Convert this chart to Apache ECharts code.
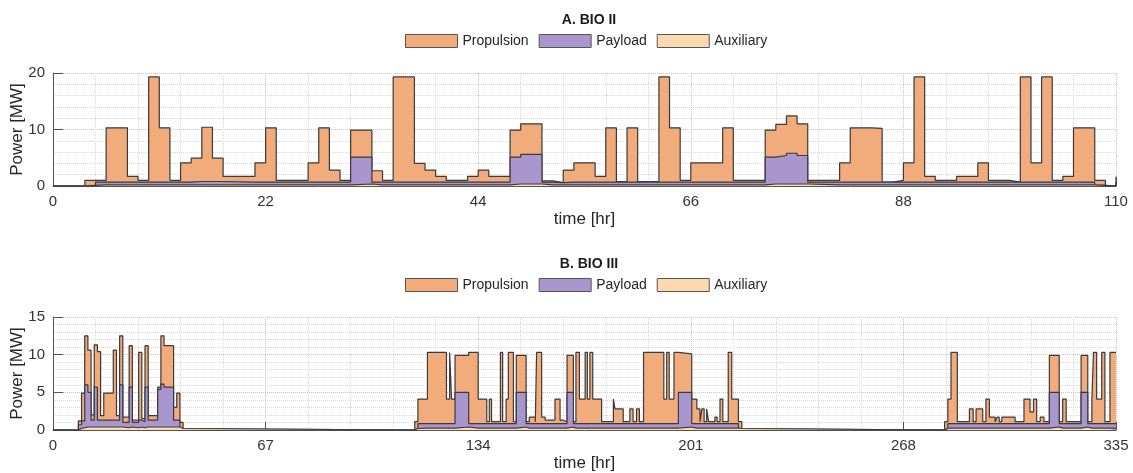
<!DOCTYPE html>
<html>
<head>
<meta charset="utf-8">
<script src="https://cdn.jsdelivr.net/npm/echarts@6/dist/echarts.min.js"></script>
<style>
  html,body{margin:0;padding:0;background:#fff;}
  #chart{width:1133px;height:473px;}
</style>
</head>
<body>
<div id="chart"></div>
<script>
// A. BIO II  (step change times, hr, and power of each source in MW)
const topTimes = [0, 3.3, 4.4, 5.5, 7.7, 8.8, 9.9, 11, 12.1, 13.2, 14.3, 15.4, 16.5, 17.6, 20.9, 22, 23.1, 26.4, 27.5, 28.6,
  29.7, 30.8, 33, 34.1, 35.2, 37.4, 38.5, 39.6, 40.7, 42.9, 44, 45.1, 47.3, 48.4, 50.6, 51.7, 52.8, 53.9, 56.1, 57.2,
  58.3, 59.4, 60.5, 62.7, 63.8, 64.9, 66, 69.3, 70.4, 73.7, 74.8, 75.9, 77, 78.1, 81.4, 82.5, 84.7, 85.8, 86.9, 88,
  89.1, 90.2, 91.3, 93.5, 95.7, 96.8, 99, 100.1, 101.2, 102.3, 103.4, 104.5, 105.6, 107.8, 108.9, 110]
const topPropulsion = [0, 0.9, 0.3, 9.6, 1.0, 0.3, 18.6, 9.6, 0.3, 3.4, 4.15, 9.6, 4.15, 1.0, 3.4, 9.6, 0.3, 3.4, 9.6, 2.1,
  0.3, 4.8, 2.0, 0.3, 18.6, 3.3, 2.1, 1.0, 0.3, 1.0, 2.1, 1.0, 4.8, 5.4, 0.2, 0, 2.1, 3.4, 1.0, 9.6,
  0.1, 9.6, 0.1, 18.6, 9.6, 0.3, 3.4, 9.6, 0.3, 4.8, 5.5, 6.6, 5.6, 0.3, 3.4, 9.6, 9.5, 0, 0.3, 3.4,
  18.6, 1.0, 0.3, 1.0, 3.4, 0.3, 0, 18.6, 3.4, 18.6, 0.3, 1.0, 9.6, 0.9, 0, 1.0]
const topPayload = [0, 0, 0.5, 0.5, 0.5, 0.5, 0.5, 0.5, 0.5, 0.5, 0.6, 0.6, 0.6, 0.5, 0.5, 0.5, 0.5, 0.5, 0.5, 0.5,
  0.5, 4.75, 0.5, 0.5, 0.5, 0.5, 0.5, 0.5, 0.5, 0.5, 0.5, 0.5, 4.75, 5.25, 0.5, 0.4, 0.5, 0.5, 0.5, 0.5,
  0.5, 0.5, 0.5, 0.5, 0.5, 0.5, 0.5, 0.5, 0.5, 4.75, 5.05, 5.45, 5.05, 0.5, 0.5, 0.5, 0.5, 0.5, 0.5, 0.5,
  0.5, 0.5, 0.5, 0.5, 0.5, 0.5, 0.5, 0.5, 0.5, 0.5, 0.5, 0.5, 0.5, 0, 0, 0.5]
const topAuxiliary = [0, 0.1, 0.2, 0.2, 0.2, 0.2, 0.2, 0.2, 0.2, 0.2, 0.2, 0.2, 0.2, 0.2, 0.2, 0.2, 0.2, 0.2, 0.2, 0.2,
  0.2, 0.35, 0.2, 0.2, 0.2, 0.2, 0.2, 0.2, 0.2, 0.2, 0.2, 0.2, 0.35, 0.35, 0.2, 0.2, 0.2, 0.2, 0.2, 0.2,
  0.2, 0.2, 0.2, 0.2, 0.2, 0.2, 0.2, 0.2, 0.2, 0.35, 0.35, 0.35, 0.35, 0.2, 0.2, 0.2, 0.2, 0.2, 0.2, 0.2,
  0.2, 0.2, 0.2, 0.2, 0.2, 0.2, 0.2, 0.2, 0.2, 0.2, 0.2, 0.2, 0.2, 0.1, 0, 0.2]

// B. BIO III
const botTimes = [0, 8, 9, 10, 11, 12, 13, 14, 15, 16, 19, 20, 21, 22, 24, 25, 27, 28, 29, 30,
  33, 34, 35, 38, 39, 40, 41,
  114, 115, 118, 124, 125, 125.6, 126.7, 131, 134, 136.7, 137.5, 138.2, 141, 141.7, 142.8, 143.5, 145.1, 146, 149.1,
  150.1, 152, 152.4, 154, 155.1, 158.2, 159.8, 160.8, 162, 164, 164.8, 165.9, 167.7, 168.4, 169.2, 170.1, 172.9, 176.6,
  177.1, 179.7, 181.8, 182.8, 183.9, 184.8, 186.1, 192.5, 193.4, 194.2, 195.7, 197.1, 201.3, 202.9, 203.9, 204.5,
  205.2, 206, 206.6, 208.6, 209.3, 210.2, 211.1, 212.8, 213.9, 216, 217.1,
  281, 282, 283, 285, 288.8, 290, 290.9, 293, 294, 295.1, 296.9, 297.5, 298.2, 299, 303.2, 306, 307.9, 309, 310,
  311.1, 312.3, 314, 317.1, 318.2, 319.3, 324, 326.1, 327.4, 327.9, 328.9, 330.5, 331.5, 333.1, 335]
const botPropulsion = [0, 0.5, 3.7, 6.5, 5.6, 0.7, 5.6, 9.1, 0.6, 3.6, 9.3, 0.6, 6.5, 0.7, 5.5, 0.3, 9.0, 0.4, 5.5, 0.6,
  0.3, 6.4, 5.5, 1.7, 3.6, 0.8, 0,
  0.9, 3.25, 9.45, 3.25, 9.45, 3.25, 4.9, 9.45, 3.25, 0.25, 3.25, 0.25, 9.45, 0.25, 3.25, 9.45, 0.25, 4.9, 0.25,
  0.85, 0.25, 9.45, 0.85, 0.45, 3.25, 0.45, 0.25, 4.9, 0.25, 9.45, 3.25, 9.45, 3.25, 9.45, 3.25, 0.25, 3.25,
  1.95, 0.25, 1.95, 0.25, 1.95, 0.25, 9.45, 3.25, 9.45, 3.25, 9.45, 5.1, 3.25, 1.95, 0.25, 1.95,
  0.25, 1.95, 0.25, 0.85, 0.25, 3.25, 0.25, 9.45, 3.25, 0.9, 0,
  0.9, 3.25, 9.45, 0.25, 1.95, 0.25, 1.95, 0.25, 3.25, 0.85, 0.25, 0.85, 0.25, 0.85, 0.25, 3.25, 1.55, 3.25, 0.25,
  0.85, 0.25, 4.9, 0.25, 3.25, 0.25, 4.9, 0.25, 3.25, 9.45, 3.25, 9.45, 0.25, 9.45, 9.45]
const botPayload = [0, 0.5, 0.9, 5.6, 4.6, 0.9, 5.3, 0.9, 0.9, 0.9, 0.9, 0.9, 5.6, 0.7, 5.3, 0.7, 0.9, 0.8, 5.3, 0.9,
  5.0, 5.7, 5.3, 0.9, 0.9, 0, 0,
  0, 0.6, 0.6, 0.6, 0.6, 0.6, 4.6, 0.6, 0.6, 0.6, 0.6, 0.6, 0.6, 0.6, 0.6, 0.6, 0.6, 4.6, 0.6,
  0.6, 0.6, 0.6, 0.6, 0.6, 0.6, 0.6, 0.6, 4.6, 0.6, 0.6, 0.6, 0.6, 0.6, 0.6, 0.6, 0.6, 0.6,
  0.6, 0.6, 0.6, 0.6, 0.6, 0.6, 0.6, 0.6, 0.6, 0.6, 0.6, 4.6, 0.6, 0.6, 0.6, 0.6,
  0.6, 0.6, 0.6, 0.6, 0.6, 0.6, 0.6, 0.6, 0.6, 0, 0,
  0, 0.6, 0.6, 0.6, 0.6, 0.6, 0.6, 0.6, 0.6, 0.6, 0.6, 0.6, 0.6, 0.6, 0.6, 0.6, 0.6, 0.6, 0.6,
  0.6, 0.6, 4.6, 0.6, 0.6, 0.6, 4.6, 0.6, 0.6, 0.6, 0.6, 0.6, 0.6, 0.6, 0.6]
const botAuxiliary = [0, 0.2, 0.3, 0.4, 0.4, 0.4, 0.4, 0.4, 0.4, 0.4, 0.4, 0.4, 0.4, 0.3, 0.4, 0.3, 0.4, 0.3, 0.4, 0.4,
  0.4, 0.4, 0.4, 0.4, 0.4, 0.2, 0,
  0.2, 0.25, 0.25, 0.25, 0.25, 0.25, 0.4, 0.25, 0.25, 0.25, 0.25, 0.25, 0.25, 0.25, 0.25, 0.25, 0.25, 0.4, 0.25,
  0.25, 0.25, 0.25, 0.25, 0.25, 0.25, 0.25, 0.25, 0.4, 0.25, 0.25, 0.25, 0.25, 0.25, 0.25, 0.25, 0.25, 0.25,
  0.25, 0.25, 0.25, 0.25, 0.25, 0.25, 0.25, 0.25, 0.25, 0.25, 0.25, 0.4, 0.25, 0.25, 0.25, 0.25,
  0.25, 0.25, 0.25, 0.25, 0.25, 0.25, 0.25, 0.25, 0.25, 0.2, 0,
  0.2, 0.25, 0.25, 0.25, 0.25, 0.25, 0.25, 0.25, 0.25, 0.25, 0.25, 0.25, 0.25, 0.25, 0.25, 0.25, 0.25, 0.25, 0.25,
  0.25, 0.25, 0.4, 0.25, 0.25, 0.25, 0.4, 0.25, 0.25, 0.25, 0.25, 0.25, 0.25, 0.25, 0.25]

const names = ['Propulsion', 'Payload', 'Auxiliary']
const colors = ['#f2ab7b', '#a996cf', '#fdd9b0']
const font = "'Liberation Sans', Arial, Helvetica, sans-serif"

// areas are layered from zero: propulsion drawn as the running total on the back
function buildSeries(times, prop, pay, aux, idx){
  const auxTop = times.map((t, i) => [t, aux[i]])
  const payTop = times.map((t, i) => [t, aux[i] + pay[i]])
  const propTop = times.map((t, i) => [t, aux[i] + pay[i] + prop[i]])
  return [propTop, payTop, auxTop].map((data, k) => ({
    name: names[k],
    type: 'line',
    step: 'end',
    xAxisIndex: idx,
    yAxisIndex: idx,
    data: data,
    symbol: 'none',
    color: colors[k],
    lineStyle: { color: '#3a3a3a', width: 1.2 },
    areaStyle: { color: colors[k], opacity: 1 },
    z: 2 + k
  }))
}

function xAxisOf(idx, max, step){
  return {
    gridIndex: idx, type: 'value', min: 0, max: max, interval: step,
    name: 'time [hr]', nameLocation: 'middle', nameGap: 25,
    nameTextStyle: { fontSize: 17, color: '#262626', fontFamily: font },
    axisLine: { show: true, lineStyle: { color: '#555', width: 1 } },
    axisTick: { show: true, inside: true, length: 8, lineStyle: { color: '#555' } },
    axisLabel: { fontSize: 15, color: '#333', margin: 8, fontFamily: font },
    splitLine: { show: true, lineStyle: { color: '#c6c6c6', type: 'dotted' } },
    minorTick: { show: false, splitNumber: 5 },
    minorSplitLine: { show: true, lineStyle: { color: '#d8d8d8', type: 'dotted' } }
  }
}
function yAxisOf(idx, max, step){
  return {
    gridIndex: idx, type: 'value', min: 0, max: max, interval: step,
    name: 'Power [MW]', nameLocation: 'middle', nameGap: 27, nameMoveOverlap: false,
    nameTextStyle: { fontSize: 17, color: '#262626', fontFamily: font },
    axisLine: { show: true, lineStyle: { color: '#555', width: 1 } },
    axisTick: { show: true, inside: true, length: 10, lineStyle: { color: '#555' } },
    axisLabel: { fontSize: 15, color: '#333', margin: 8, fontFamily: font },
    splitLine: { show: true, lineStyle: { color: '#c6c6c6', type: 'dotted' } },
    minorTick: { show: false, splitNumber: 5 },
    minorSplitLine: { show: true, lineStyle: { color: '#d8d8d8', type: 'dotted' } }
  }
}
function legendOf(top){
  return {
    top: top, left: 400, data: names, icon: 'rect', itemWidth: 52, itemHeight: 13, itemGap: 10,
    itemStyle: { borderColor: '#555', borderWidth: 1 },
    textStyle: { fontSize: 14, color: '#262626', fontFamily: font }
  }
}

const myChart = echarts.init(document.getElementById('chart'))
const option = {
  animation: false,
  textStyle: { fontFamily: font },
  title: [
    { text: 'A. BIO II', left: 584, top: 8, textAlign: 'center', textStyle: { fontSize: 14, fontWeight: 'bold', color: '#1a1a1a', fontFamily: font } },
    { text: 'B. BIO III', left: 584, top: 252, textAlign: 'center', textStyle: { fontSize: 14, fontWeight: 'bold', color: '#1a1a1a', fontFamily: font } }
  ],
  legend: [legendOf(29), legendOf(273)],
  grid: [
    { left: 53, right: 17, top: 73, height: 113, outerBoundsMode: 'none' },
    { left: 53, right: 17, top: 317, height: 113, outerBoundsMode: 'none' }
  ],
  xAxis: [xAxisOf(0, 110, 22), xAxisOf(1, 335, 67)],
  yAxis: [yAxisOf(0, 20, 10), yAxisOf(1, 15, 5)],
  series: [
    ...buildSeries(topTimes, topPropulsion, topPayload, topAuxiliary, 0),
    ...buildSeries(botTimes, botPropulsion, botPayload, botAuxiliary, 1)
  ]
}
myChart.setOption(option)
</script>
</body>
</html>
